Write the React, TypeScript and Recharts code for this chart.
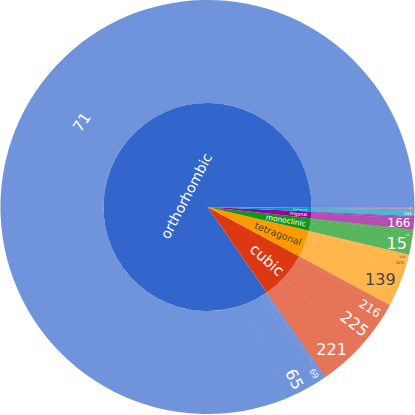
import React from 'react';
import { PieChart, Pie, Cell } from 'recharts';

// Crystal systems (inner ring), in drawing order
const systems = ['orthorhombic', 'cubic', 'tetragonal', 'monoclinic', 'trigonal', 'hexagonal', 'triclinic'];
const systemColors = ['#3366CC', '#DC3912', '#FF9900', '#109618', '#990099', '#0099C6', '#DD4477'];

// Space groups (outer ring) per system
const orthorhombicGroups = ['71', '65', '69', '63', '74', '62'];
const orthorhombicCounts = [1168, 38, 8, 2, 2, 1];
const cubicGroups = ['221', '225', '216', '229', '227', '223', '215'];
const cubicCounts = [50, 34, 18, 2, 2, 1, 1];
const tetragonalGroups = ['139', '123', '129', '140', '141', '127'];
const tetragonalCounts = [44, 10, 2, 2, 1, 1];
const monoclinicGroups = ['15', '12', '14', '11', '13'];
const monoclinicCounts = [18, 6, 2, 1, 1];
const trigonalGroups = ['166', '148', '160'];
const trigonalCounts = [12, 2, 1];
const hexagonalGroups = ['194', '191'];
const hexagonalCounts = [6, 2];
const triclinicGroups = ['2'];
const triclinicCounts = [2];

const groupLabels = [orthorhombicGroups, cubicGroups, tetragonalGroups, monoclinicGroups, trigonalGroups, hexagonalGroups, triclinicGroups];
const groupCounts = [orthorhombicCounts, cubicCounts, tetragonalCounts, monoclinicCounts, trigonalCounts, hexagonalCounts, triclinicCounts];

const innerData = systems.map((s, i) => ({
  name: s,
  value: groupCounts[i].reduce((a, b) => a + b, 0),
  sys: i,
}));
const outerData = systems.flatMap((s, i) =>
  groupLabels[i].map((g, j) => ({ name: g, value: groupCounts[i][j], sys: i }))
);

// label styling: orientation (t = tangential, r = radial, h = horizontal), font size, colour
type LStyle = { o: 't' | 'r' | 'h'; fs: number; fill?: string };
const DARK = '#444';
const innerLabelStyle: Record<string, LStyle> = {
  orthorhombic: { o: 't', fs: 14 },
  cubic: { o: 'r', fs: 15 },
  tetragonal: { o: 'r', fs: 9.5, fill: DARK },
  monoclinic: { o: 'r', fs: 7.5 },
  trigonal: { o: 'r', fs: 4.5 },
  hexagonal: { o: 'r', fs: 2.8 },
};
const outerLabelStyle: Record<string, LStyle> = {
  '71': { o: 't', fs: 15 },
  '65': { o: 'r', fs: 16 },
  '69': { o: 'r', fs: 8 },
  '221': { o: 'h', fs: 16 },
  '225': { o: 'r', fs: 16 },
  '216': { o: 'r', fs: 12 },
  '139': { o: 'h', fs: 16, fill: DARK },
  '123': { o: 'h', fs: 4, fill: DARK },
  '129': { o: 'h', fs: 3, fill: DARK },
  '15': { o: 'h', fs: 16 },
  '12': { o: 'h', fs: 3 },
  '166': { o: 'h', fs: 12 },
  '194': { o: 'h', fs: 4 },
  '2': { o: 'h', fs: 3 },
};

const FONT = '"DejaVu Sans", Verdana, sans-serif';
const textWidthEm = (t: string) =>
  t.split('').reduce((a, ch) => a + (/[0-9]/.test(ch) ? 0.636 : ch === 'm' ? 0.97 : /[il]/.test(ch) ? 0.28 : /[tr]/.test(ch) ? 0.4 : 0.61), 0);

function makeLabel(ring: 0 | 1) {
  const styles = ring === 0 ? innerLabelStyle : outerLabelStyle;
  return (props: any) => {
    const { cx, cy, midAngle, innerRadius, outerRadius } = props;
    const name: string = props.payload?.name ?? props.name;
    const st = styles[name];
    if (!st) return null;
    const fs = st.fs;
    const w = textWidthEm(name) * fs;
    const h = fs * 0.8;
    const th = (midAngle * Math.PI) / 180;
    const c = Math.cos(th);
    const s = Math.sin(th);
    let r: number;
    let rot = 0;
    if (st.o === 't') {
      r = ring === 0 ? outerRadius * 0.23 : (innerRadius + outerRadius) / 2 - 4;
      rot = 90 - midAngle;
    } else if (st.o === 'r') {
      r = outerRadius - w / 2 - 4;
      rot = -midAngle;
    } else {
      r = outerRadius - (Math.abs(c) * w / 2 + Math.abs(s) * h / 2) - 3;
    }
    const x = cx + r * c;
    const y = cy - r * s;
    return (
      <text
        key={`l-${ring}-${name}`}
        x={x}
        y={y}
        fill={st.fill ?? '#fff'}
        fontSize={fs}
        fontFamily={FONT}
        textAnchor="middle"
        dominantBaseline="central"
        transform={rot ? `rotate(${rot} ${x} ${y})` : undefined}
      >
        {name}
      </text>
    );
  };
}

export default function App() {
  return (
    <div style={{ position: 'absolute', left: 0, top: 0, width: 415, height: 415, background: '#fff' }}>
      <PieChart width={415} height={415} margin={{ top: 0, right: 0, bottom: 0, left: 0 }}>
        <Pie
          data={innerData}
          dataKey="value"
          nameKey="name"
          cx={207.5}
          cy={207}
          innerRadius={0}
          outerRadius={104}
          startAngle={0}
          endAngle={360}
          stroke="none"
          isAnimationActive={false}
          labelLine={false}
          label={makeLabel(0)}
        >
          {innerData.map((d, i) => (
            <Cell key={`i-${i}`} fill={systemColors[d.sys]} stroke="none" />
          ))}
        </Pie>
        <Pie
          data={outerData}
          dataKey="value"
          nameKey="name"
          cx={207.5}
          cy={207}
          innerRadius={104}
          outerRadius={207}
          startAngle={0}
          endAngle={360}
          stroke="none"
          isAnimationActive={false}
          labelLine={false}
          label={makeLabel(1)}
        >
          {outerData.map((d, i) => (
            <Cell key={`o-${i}`} fill={systemColors[d.sys]} fillOpacity={0.7} stroke={systemColors[d.sys]} strokeOpacity={0.15} strokeWidth={0.5} />
          ))}
        </Pie>
      </PieChart>
    </div>
  );
}
